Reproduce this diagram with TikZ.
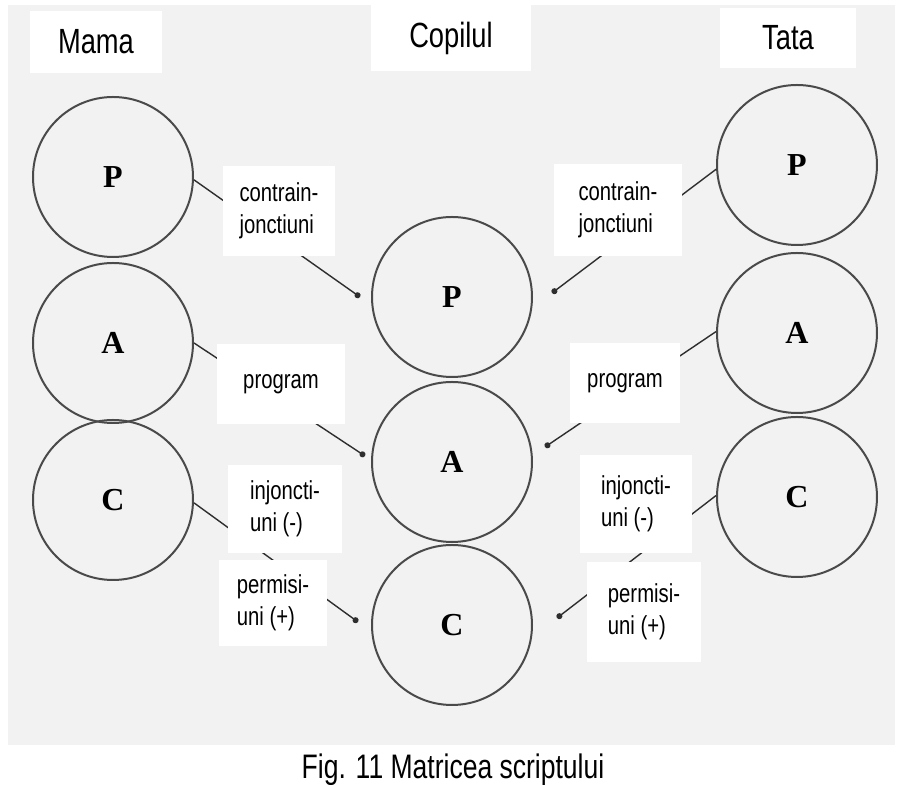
\documentclass[tikz,border=0pt]{standalone}
\usepackage{fontspec}
\setmainfont[FakeStretch=0.78]{Liberation Sans}
\newfontfamily\letterfont{Liberation Serif}
\usetikzlibrary{arrows.meta}

\definecolor{paper}{HTML}{F2F2F2}
\definecolor{ring}{HTML}{4A4A4A}
\definecolor{ink}{HTML}{2E2E2E}

\tikzset{
  egostate/.style={circle, draw=ring, line width=1pt, minimum size=80pt,
    inner sep=0pt, font=\letterfont\bfseries\fontsize{16}{16}\selectfont},
  title/.style={fill=white, inner sep=0pt, font=\fontsize{17.5}{18}\selectfont},
  lbl/.style={fill=white, inner sep=0pt, align=left,
    font=\fontsize{13}{16}\selectfont},
  link/.style={draw=ink, line width=0.7pt, -{Circle[length=3pt]}},
}

\begin{document}
\begin{tikzpicture}[x=0.5pt, y=-0.5pt]
  \useasboundingbox (0,0) rectangle (902,785);
  \fill[white] (0,0) rectangle (902,785);
  \fill[paper] (8,5) rectangle (895,745);

  % column headings
  \node[title, minimum width=66pt, minimum height=31pt] (hm) at (96,42) {Mama};
  \node[title, minimum width=80pt, minimum height=33pt] (hc) at (451,38) {Copilul};
  \node[title, minimum width=68pt, minimum height=30pt] (ht) at (788,38) {Tata};

  % mother
  \node[egostate] (mP) at (113,177) {P};
  \node[egostate] (mA) at (113,343) {A};
  \node[egostate] (mC) at (113,500) {C};
  % child
  \node[egostate] (cP) at (452,297) {P};
  \node[egostate] (cA) at (452,462) {A};
  \node[egostate] (cC) at (452,625) {C};
  % father
  \node[egostate] (fP) at (797,165) {P};
  \node[egostate] (fA) at (797,333) {A};
  \node[egostate] (fC) at (797,497) {C};

  % where each transmission lands beside the child's states
  \coordinate (tLP) at (360,297);
  \coordinate (tRP) at (552,293);
  \coordinate (tLA) at (365,456);
  \coordinate (tRA) at (545,447);
  \coordinate (tLC) at (358,622);
  \coordinate (tRC) at (557,618);

  % transmissions from the parents to the child
  \draw[link] (mP.-2) -- (tLP);
  \draw[link] (fP.183) -- (tRP);
  \draw[link] (mA.0) -- (tLA);
  \draw[link] (fA.179) -- (tRA);
  \draw[link] (mC.-2) -- (tLC);
  \draw[link] (fC.179) -- (tRC);

  % labels placed over the connectors
  \node[lbl, minimum width=56pt, minimum height=45pt] (l1) at (279,211) {contrain-\\jonctiuni};
  \node[lbl, minimum width=64pt, minimum height=46pt] (r1) at (618,210) {contrain-\\jonctiuni};
  \node[lbl, minimum width=64pt, minimum height=40pt] (l2) at (281,384) {program};
  \node[lbl, minimum width=55pt, minimum height=40pt] (r2) at (625,383) {program};
  \node[lbl, minimum width=57pt, minimum height=44pt] (l3) at (285,509) {injoncti-\\uni (-)};
  \node[lbl, minimum width=54pt, minimum height=43pt] (l4) at (273,603) {permisi-\\uni (+)};
  \node[lbl, minimum width=56pt, minimum height=49pt] (r3) at (636,504) {injoncti-\\uni (-)};
  \node[lbl, minimum width=57pt, minimum height=50pt] (r4) at (644,612) {permisi-\\uni (+)};

  % caption
  \node[font=\fontsize{17}{18}\selectfont, inner sep=0pt] (cap) at (453,770)
    {Fig. 11 Matricea scriptului};
\end{tikzpicture}
\end{document}
